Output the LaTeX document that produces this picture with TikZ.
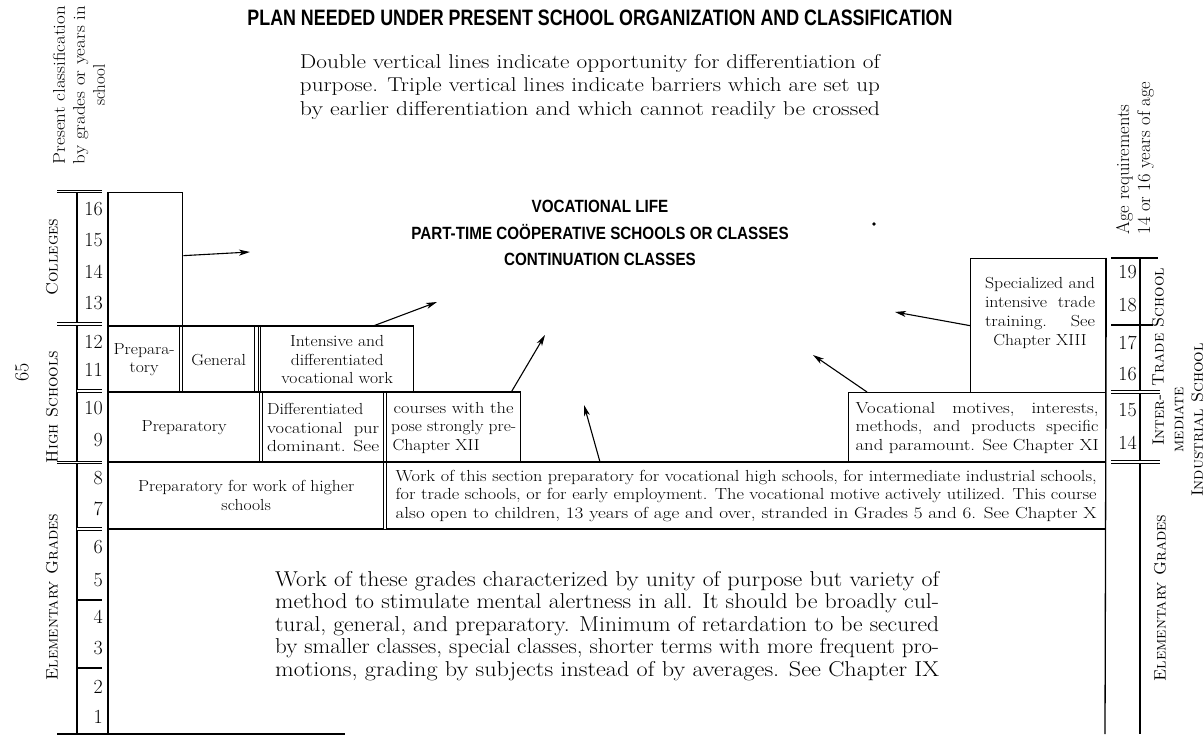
\documentclass[tikz,border=0pt]{standalone}
\usepackage{fontspec}
\usepackage{graphicx}
\usetikzlibrary{arrows.meta}

\newfontfamily\plansans{Liberation Sans}
% a line brought to a given width; a line widened like the old face
\newcommand\jline[2]{\resizebox{#1}{\height}{#2}}
\newcommand\hsc[1]{\scalebox{1.1}[1]{#1}}

\begin{document}
\begin{tikzpicture}[
        x=1pt, y=-1pt,
        rule/.style={line width=1.3pt},
        dbl/.style={double, double distance=1.8pt, line width=0.9pt},
        cell/.style={draw, line width=1.3pt, inner sep=0pt, anchor=north west,
                     align=center, font=\fontsize{16}{18.5}\selectfont},
        num/.style={anchor=east, inner sep=0pt, font=\fontsize{20}{20}\selectfont},
        side/.style={rotate=90, inner sep=0pt, align=center,
                     font=\fontsize{16.5}{19.5}\selectfont\scshape},
        note/.style={rotate=90, inner sep=0pt, font=\fontsize{17}{20}\selectfont},
        caps/.style={inner sep=0pt, font=\plansans\bfseries},
        arr/.style={line width=1.1pt, -{Stealth[length=11pt, width=6pt, inset=3pt]}},
    ]
    \useasboundingbox (0,0) rectangle (1204,735);

    % Headings
    \node[caps] (title) at (600,18)
        {\scalebox{0.8}[1]{\fontsize{22.3}{24}\selectfont PLAN NEEDED UNDER PRESENT SCHOOL ORGANIZATION AND CLASSIFICATION}};
    \node[inner sep=0pt, align=center, font=\fontsize{20}{23.5}\selectfont] (legend) at (590,87)
        {\jline{580pt}{Double vertical lines indicate opportunity for differentiation of}\\
         \jline{580pt}{purpose.  Triple vertical lines indicate barriers which are set up}\\
         \jline{580pt}{by earlier differentiation and which cannot readily be crossed}};
    \node[note, align=center] (classnote) at (79,85)
        {\jline{158pt}{Present classification}\\\jline{158pt}{by grades or years in}\\school};
    \node[note, align=left, font=\fontsize{18.5}{21}\selectfont] (agenote) at (1135,158)
        {Age requirements\\14 or 16 years of age};
    \node[rotate=90, inner sep=0pt, font=\fontsize{20}{20}\selectfont] (page) at (22,372) {65};

    \node[caps] (voclife) at (600,234)
        {\scalebox{0.86}[1]{\fontsize{17.7}{26.5}\selectfont\begin{tabular}{@{}c@{}}
            VOCATIONAL LIFE\\
            PART-TIME COÖPERATIVE SCHOOLS OR CLASSES\\
            CONTINUATION CLASSES\end{tabular}}};
    \fill (874,224) circle (1.8pt);

    % Boxes
    \node[cell, minimum width=74pt, minimum height=134pt] (colleges) at (108,192) {};
    \node[cell, minimum width=71pt, minimum height=66pt] (prepA) at (108,326)
        {\hsc{Prepara-}\\\hsc{tory}};
    \node[cell, minimum width=72pt, minimum height=66pt] (general) at (182,326) {\hsc{General}};
    \node[cell, minimum width=153pt, minimum height=66pt] (intensive) at (260,326)
        {\hsc{Intensive and}\\\hsc{differentiated}\\\hsc{vocational work}};
    \node[cell, minimum width=151pt, minimum height=70pt] (prepB) at (108,392) {\hsc{Preparatory}};
    \node[cell, minimum width=121pt, minimum height=70pt] (diffvoc) at (262,392)
        {\makebox[112pt][l]{\hsc{Differentiated}}\\\jline{112pt}{vocational \ pur}\\\jline{112pt}{dominant. See}};
    \node[cell, minimum width=134pt, minimum height=70pt] (courses) at (386,392)
        {\jline{120pt}{courses with the}\\\jline{125pt}{pose strongly pre-}\\\makebox[122pt][l]{\hsc{Chapter XII}}};
    \node[cell, minimum width=257pt, minimum height=70pt] (vocmot) at (848,392)
        {\jline{243pt}{Vocational \ \ motives, \ \ interests,}\\
         \jline{243pt}{methods, \ and \ products \ specific}\\
         \jline{243pt}{and paramount.  See Chapter XI}};
    \node[cell, minimum width=135pt, minimum height=134pt] (trade) at (970,258) {};
    \node[inner sep=0pt, align=center, font=\fontsize{16}{18.8}\selectfont] (tradetext) at (1040,313)
        {\jline{110pt}{Specialized and}\\\jline{110pt}{intensive \ trade}\\\jline{110pt}{training. \ \ \ See}\\\hsc{Chapter XIII}};
    \node[cell, minimum width=275pt, minimum height=66pt] (prepC) at (108,462)
        {\hsc{Preparatory for work of higher}\\\hsc{schools}};
    \node[cell, minimum width=719pt, minimum height=66pt] (work78) at (386,462)
        {\jline{701pt}{Work of this section preparatory for vocational high schools, for intermediate industrial schools,}\\
         \jline{701pt}{for trade schools, or for early employment.  The vocational motive actively utilized.  This course}\\
         \jline{701pt}{also open to children, 13 years of age and over, stranded in Grades 5 and 6.  See Chapter X}};
    \node[cell, draw=none, minimum width=997pt, minimum height=194pt,
          font=\fontsize{21.5}{22.5}\selectfont] (elem) at (108,528)
        {\jline{664pt}{Work of these grades characterized by unity of purpose but variety of}\\
         \jline{664pt}{method to stimulate mental alertness in all.  It should be broadly cul-}\\
         \jline{664pt}{tural, general, and preparatory.  Minimum of retardation to be secured}\\
         \jline{664pt}{by smaller classes, special classes, shorter terms with more frequent pro-}\\
         \jline{664pt}{motions, grading by subjects instead of by averages.  See Chapter IX}};

    % Row lines and the triple line
    \draw[rule] (prepA.north west) -- (intensive.north east);
    \draw[rule] (prepB.north west) -- (courses.north east);
    \draw[rule] (prepC.north west) -- (work78.north east);
    \draw[rule] (prepC.south west) -- (work78.south east);
    \draw[rule] ([xshift=3pt]general.north east) -- ([xshift=3pt]general.south east);

    % Left scale
    \draw[rule] (colleges.north west) -- (108,734);
    \draw[rule] (77,192) -- (77,734);
    \draw[dbl] (57,191.5) -- (102,191.5);
    \draw[dbl] (57,324) -- (102,324);
    \draw[dbl] (77,391) -- (102,391);
    \draw[dbl] (57,462.5) -- (102,462.5);
    \draw[dbl] (77,529) -- (102,529);
    \draw[rule] (77,600) -- (102,600);
    \draw[rule] (77,668) -- (102,668);
    \draw[rule] (57,734) -- (345,734);
    \foreach \n/\y in {16/209, 15/240, 14/272, 13/303, 12/342, 11/370, 10/408, 9/440,
                       8/478, 7/509, 6/547, 5/580, 4/617, 3/648, 2/687, 1/717}
        \node[num] (g\n) at (103,\y) {\n};
    \node[side] (lcol) at (52,257) {Colleges};
    \node[side] (lhigh) at (52,407) {High Schools};
    \node[side] (lelem) at (52,597) {Elementary Grades};

    % Right scale
    \draw[rule] (trade.north east) -- (1105,734);
    \draw[rule] (1140,258) -- (1140,734);
    \draw[line width=2pt] (1111,258) -- (1158,258);
    \draw[rule] (1111,325) -- (1153,325);
    \draw[dbl] (1111,392) -- (1160,392);
    \draw[dbl] (1111,462) -- (1160,462);
    \foreach \n/\y in {19/272, 18/305, 17/343, 16/374, 15/410, 14/443}
        \node[num] (a\n) at (1137,\y) {\n};
    \node[side] (rtrade) at (1158,327) {Trade School};
    \node[side] (rinter) at (1178,420) {Inter-\\mediate\\Industrial School};
    \node[side] (relem) at (1160,598) {Elementary Grades};

    % Arrows
    \coordinate (colTip) at (250,252);
    \coordinate (intTip) at (437,302);
    \coordinate (crsTip) at (545,335);
    \coordinate (midTip) at (584,405);
    \coordinate (vocTip) at (813,355);
    \coordinate (trdTip) at (895,312);
    \draw[arr] ([yshift=4pt]colleges.east) -- (colTip);
    \draw[arr] ([xshift=36pt]intensive.north) -- (intTip);
    \draw[arr] ([xshift=-10pt]courses.north east) -- (crsTip);
    \draw[arr] ([xshift=214pt]work78.north west) -- (midTip);
    \draw[arr] ([xshift=19pt]vocmot.north west) -- (vocTip);
    \draw[arr] (trade.west) -- (trdTip);

\end{tikzpicture}
\end{document}
